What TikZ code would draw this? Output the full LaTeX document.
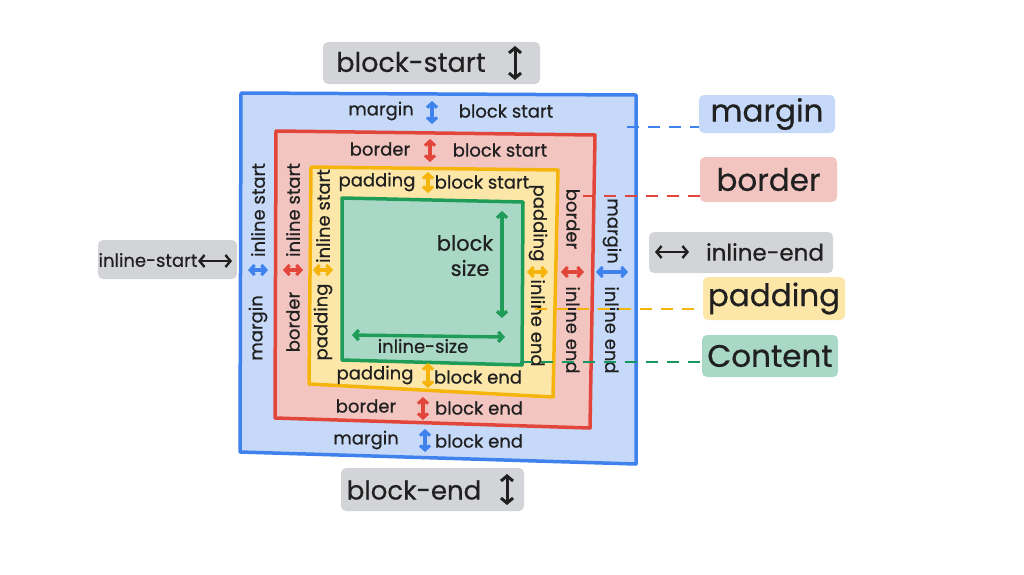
\documentclass[tikz,border=0pt]{standalone}
\usepackage{fontspec}
\setmainfont{Poppins}[FakeBold=0.6]
\usetikzlibrary{arrows.meta}
\definecolor{mblue}{HTML}{3F82EE}
\definecolor{mbluefill}{HTML}{C6D9F8}
\definecolor{bred}{HTML}{E2463B}
\definecolor{bredfill}{HTML}{F3C5C1}
\definecolor{pyel}{HTML}{F5B50C}
\definecolor{pyelfill}{HTML}{FCE6A8}
\definecolor{cgreen}{HTML}{1F9D58}
\definecolor{cgreenfill}{HTML}{AAD8C6}
\definecolor{gfill}{HTML}{D3D4D7}
\definecolor{ink}{HTML}{202020}
\begin{document}
\begin{tikzpicture}[x=1pt,y=-1pt,
  lbl/.style={text=ink, inner sep=0pt, font=\fontsize{18}{20}\selectfont},
  biglbl/.style={text=ink, inner sep=0pt, font=\fontsize{31}{33}\selectfont},
  dbl/.style={line width=3.2pt, line cap=round, {Straight Barb[length=4.5pt,width=10pt]}-{Straight Barb[length=4.5pt,width=10pt]}},
  bigdbl/.style={line width=3pt, line cap=round, draw=ink, {Straight Barb[length=5pt,width=12pt]}-{Straight Barb[length=5pt,width=12pt]}},
  tagbox/.style={rounded corners=5pt, inner sep=0pt, draw=none},
  conn/.style={line width=1.6pt, dash pattern=on 12pt off 9pt},
  edge/.style={line width=3.5pt, line join=round}
]
\useasboundingbox (0,0) rectangle (1024,574);
\fill[white] (0,0) rectangle (1024,574);

% nested boxes
\filldraw[edge, draw=mblue, fill=mbluefill] (241,93) -- (636,95) -- (636,464) -- (240,452) -- cycle;
\filldraw[edge, draw=bred, fill=bredfill] (276,131) -- (595,135) -- (590,428) -- (275,418) -- cycle;
\filldraw[edge, draw=pyel, fill=pyelfill] (311,167) -- (558,170) -- (553,397) -- (309,384) -- cycle;
\filldraw[edge, draw=cgreen, fill=cgreenfill] (342,198) -- (523,202) -- (522,365) -- (342,360) -- cycle;

% top rows
\node[lbl] (mtA) at (381,111) {margin};
\draw[dbl, mblue] (432,101) -- (432,124);
\node[lbl] (mtB) at (506,111) {block start};
\node[lbl] (btA) at (380,149) {border};
\draw[dbl, bred] (430,139) -- (430,162);
\node[lbl] (btB) at (500,150) {block start};
\node[lbl] (ptA) at (377,182) {padding};
\draw[dbl, pyel] (428,172) -- (428,193);
\node[lbl] (ptB) at (482,182) {block start};

% bottom rows
\node[lbl] (pbA) at (375,375) {padding};
\draw[dbl, pyel] (428,363) -- (428,388);
\node[lbl] (pbB) at (478,377) {block end};
\node[lbl] (bbA) at (366,406) {border};
\draw[dbl, bred] (423,397) -- (423,420);
\node[lbl] (bbB) at (479,408) {block end};
\node[lbl] (mbA) at (366,440) {margin};
\draw[dbl, mblue] (425,429) -- (425,452);
\node[lbl] (mbB) at (479,441) {block end};

% left columns
\node[lbl, rotate=90] (mlA) at (258,210) {inline start};
\draw[dbl, mblue] (248,270) -- (268,270);
\node[lbl, rotate=90] (mlB) at (258,328) {margin};
\node[lbl, rotate=90] (blA) at (293,210) {inline start};
\draw[dbl, bred] (283,270) -- (303,270);
\node[lbl, rotate=90] (blB) at (293,322) {border};
\node[lbl, rotate=90] (plA) at (323,216) {inline start};
\draw[dbl, pyel] (313,270) -- (333,270);
\node[lbl, rotate=90] (plB) at (323,322) {padding};

% right columns
\node[lbl, rotate=-90] (prA) at (538,223) {padding};
\draw[dbl, pyel] (527,272) -- (548,272);
\node[lbl, rotate=-90] (prB) at (538,323) {inline end};
\node[lbl, rotate=-90] (brA) at (573,219) {border};
\draw[dbl, bred] (561,272) -- (584,272);
\node[lbl, rotate=-90] (brB) at (573,330) {inline end};
\node[lbl, rotate=-90] (mrA) at (612,231) {margin};
\draw[dbl, mblue] (596,272) -- (628,272);
\node[lbl, rotate=-90] (mrB) at (612,330) {inline end};

% content
\node[lbl, font=\fontsize{21}{22}\selectfont] (cblock) at (465,243) {block};
\node[lbl, font=\fontsize{21}{22}\selectfont] (csize) at (470,268) {size};
\draw[dbl, cgreen, line width=3.4pt] (502,211) -- (502,318);
\draw[dbl, cgreen, line width=3.4pt] (352,335) -- (505,337);
\node[lbl] (cinl) at (423,346) {inline-size};

% gray tags
\node[tagbox, fill=gfill, minimum width=217pt, minimum height=42pt] (bstag) at (431.5,63) {};
\node[lbl, font=\fontsize{27}{28}\selectfont] (bstxt) at (411,62) {block-start};
\draw[bigdbl] (515,46) -- (515,80);

\node[tagbox, fill=gfill, minimum width=183pt, minimum height=43pt] (betag) at (432.5,489.5) {};
\node[lbl, font=\fontsize{26}{28}\selectfont] (betxt) at (414,490) {block-end};
\draw[bigdbl] (507,474) -- (507,505);

\node[tagbox, fill=gfill, minimum width=139pt, minimum height=39pt] (istag) at (167.5,259.5) {};
\node[lbl, font=\fontsize{18}{20}\selectfont] (istxt) at (148,260) {inline-start};
\draw[bigdbl, line width=2.4pt] (198,261) -- (232,261);

\node[tagbox, fill=gfill, minimum width=184pt, minimum height=41pt] (ietag) at (741,252.5) {};
\draw[bigdbl, line width=2.4pt] (655,252) -- (689,252);
\node[lbl, font=\fontsize{23}{24}\selectfont] (ietxt) at (765,252) {inline-end};

% colored legend tags
\node[tagbox, fill=mbluefill, minimum width=136pt, minimum height=38pt] (lmargin) at (767,114) {};
\node[biglbl] at (lmargin) {margin};
\node[tagbox, fill=bredfill, minimum width=137pt, minimum height=45pt] (lborder) at (768.5,179.5) {};
\node[biglbl] at (lborder) {border};
\node[tagbox, fill=pyelfill, minimum width=142pt, minimum height=43pt] (lpadding) at (774,298.5) {};
\node[biglbl] at (lpadding) {padding};
\node[tagbox, fill=cgreenfill, minimum width=136pt, minimum height=42pt] (lcontent) at (770,356) {};
\node[biglbl] at (lcontent) {Content};

% dashed connectors
\coordinate (dm) at (627,127);
\coordinate (db) at (583,196);
\coordinate (dp) at (535,309);
\coordinate (dc) at (520,362);
\draw[conn, mblue] (dm) -- (lmargin.west |- dm);
\draw[conn, bred] (db) -- (lborder.west |- db);
\draw[conn, pyel] (dp) -- (lpadding.west |- dp);
\draw[conn, cgreen!80!teal] (dc) -- (lcontent.west |- dc);
\end{tikzpicture}
\end{document}
